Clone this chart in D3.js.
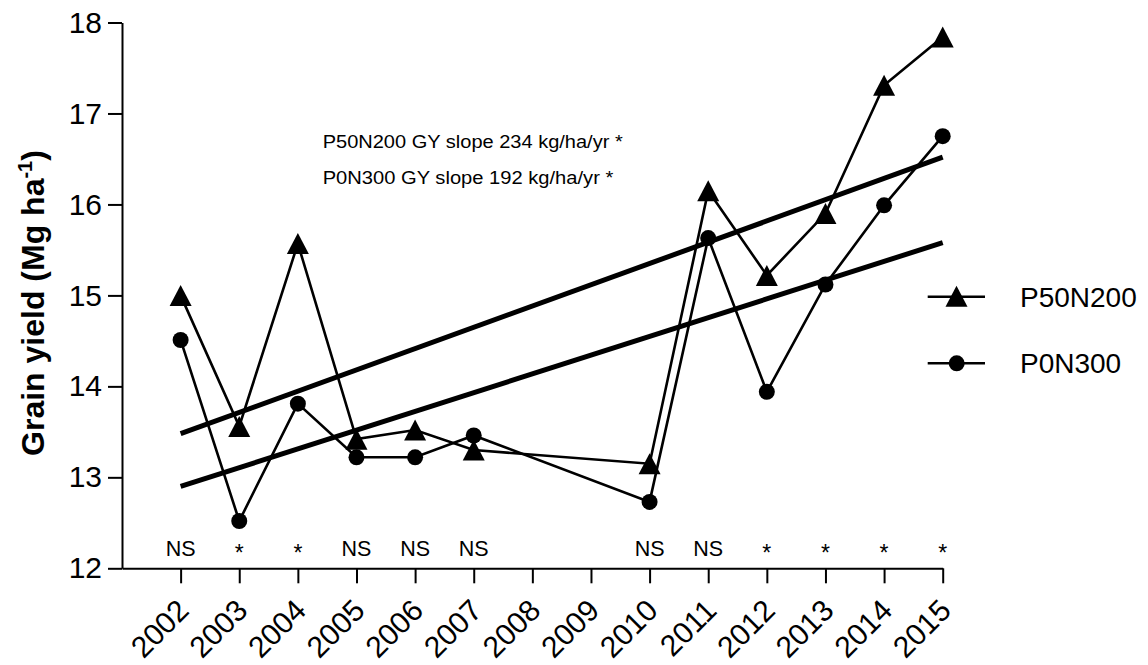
<!DOCTYPE html>
<html>
<head>
<meta charset="utf-8">
<script src="https://cdn.jsdelivr.net/npm/d3@7"></script>
<style>
  html, body { margin: 0; padding: 0; background: #fff; }
  svg { display: block; font-family: "Liberation Sans", Arial, sans-serif; }
</style>
</head>
<body>
<svg id="chart" width="1148" height="665"></svg>
<script>
// ---- data ----
const tickYears = [2002, 2003, 2004, 2005, 2006, 2007, 2008, 2009, 2010, 2011, 2012, 2013, 2014, 2015];
const dataYears = [2002, 2003, 2004, 2005, 2006, 2007, 2010, 2011, 2012, 2013, 2014, 2015];
const p50n200 = [15.00, 13.56, 15.57, 13.42, 13.52, 13.30, 13.15, 16.15, 15.22, 15.90, 17.31, 17.84];
const p0n300  = [14.51, 12.52, 13.81, 13.22, 13.22, 13.46, 12.73, 15.63, 13.94, 15.12, 15.99, 16.75];
const sigLabels = ["NS", "*", "*", "NS", "NS", "NS", "NS", "NS", "*", "*", "*", "*"];
const trendYears = [2002, 2015];
const p50Trend = [13.48, 16.52];
const p0Trend = [12.90, 15.58];
const yTicks = [12, 13, 14, 15, 16, 17, 18];
const seriesNames = ["P50N200", "P0N300"];
const annotations = ["P50N200 GY slope 234 kg/ha/yr *", "P0N300 GY slope 192 kg/ha/yr *"];

// ---- layout ----
const svg = d3.select("#chart");
const x = d3.scaleLinear().domain([2001, 2015]).range([122, 942.7]);
const y = d3.scaleLinear().domain([12, 18]).range([568.3, 22.5]);

// axes
const yAxis = d3.axisLeft(y).tickValues(yTicks).tickFormat(d3.format("d"))
  .tickSize(14).tickSizeOuter(0).tickPadding(6);
const gy = svg.append("g").attr("transform", "translate(122,0)").call(yAxis);
gy.selectAll("text").attr("font-size", 30).attr("font-family", "Liberation Sans, Arial, sans-serif").attr("fill", "#000");
gy.selectAll("line,path").attr("stroke", "#000").attr("stroke-width", 2);

const xAxis = d3.axisBottom(x).tickValues(tickYears).tickFormat(d3.format("d")).tickSize(15).tickSizeOuter(0);
const gx = svg.append("g").attr("transform", "translate(0,568.3)").call(xAxis);
gx.selectAll("line,path").attr("stroke", "#000").attr("stroke-width", 2);
gx.selectAll("text")
  .attr("font-size", 30).attr("font-family", "Liberation Sans, Arial, sans-serif").attr("fill", "#000")
  .attr("x", null).attr("y", null).attr("dy", null)
  .attr("text-anchor", "end")
  .attr("transform", "translate(9.5,44) rotate(-45)");

// y-axis title
const title = svg.append("text")
  .attr("transform", "translate(44,303) rotate(-90)")
  .attr("text-anchor", "middle")
  .attr("font-weight", "bold")
  .attr("font-size", 32)
  .attr("fill", "#000");
title.append("tspan").text("Grain yield (Mg ha");
title.append("tspan").attr("font-size", 20).attr("dy", -12).text("-1");
title.append("tspan").attr("dy", 12).text(")");

// trend lines
const trendLine = d3.line().x(d => x(d[0])).y(d => y(d[1]));
[p50Trend, p0Trend].forEach(t => {
  svg.append("path")
    .attr("d", trendLine(trendYears.map((yr, i) => [yr, t[i]])))
    .attr("fill", "none").attr("stroke", "#000").attr("stroke-width", 5);
});

// series lines
const line = d3.line().x(d => x(d[0])).y(d => y(d[1]));
[p50n200, p0n300].forEach(s => {
  svg.append("path")
    .attr("d", line(dataYears.map((yr, i) => [yr, s[i]])))
    .attr("fill", "none").attr("stroke", "#000").attr("stroke-width", 2.6)
    .attr("stroke-linejoin", "miter");
});

// markers
const triPath = "M0,-10.5L11,10.5L-11,10.5Z";
svg.append("g").selectAll("path")
  .data(dataYears.map((yr, i) => [yr, p50n200[i]]))
  .join("path")
  .attr("d", triPath)
  .attr("transform", d => `translate(${x(d[0])},${y(d[1])})`)
  .attr("fill", "#000");
svg.append("g").selectAll("circle")
  .data(dataYears.map((yr, i) => [yr, p0n300[i]]))
  .join("circle")
  .attr("cx", d => x(d[0])).attr("cy", d => y(d[1])).attr("r", 8)
  .attr("fill", "#000");

// significance labels
svg.append("g").selectAll("text")
  .data(dataYears.map((yr, i) => [yr, sigLabels[i]]))
  .join("text")
  .attr("x", d => x(d[0]))
  .attr("y", d => d[1] === "*" ? 561 : 555.5)
  .attr("text-anchor", "middle")
  .attr("font-size", d => d[1] === "*" ? 23 : 21.5)
  .attr("fill", "#000")
  .text(d => d[1]);

// slope annotations
const annLen = [300, 290.6];
const annY = [148.3, 184];
annotations.forEach((t, i) => {
  svg.append("text")
    .attr("x", 322.7).attr("y", annY[i])
    .attr("font-size", 17.5)
    .attr("textLength", annLen[i]).attr("lengthAdjust", "spacingAndGlyphs")
    .attr("fill", "#000")
    .text(t);
});

// legend
const legY = [296.7, 363.3];
seriesNames.forEach((name, i) => {
  const g = svg.append("g").attr("transform", `translate(0,${legY[i]})`);
  g.append("line").attr("x1", 927.7).attr("x2", 985).attr("y1", 0).attr("y2", 0)
    .attr("stroke", "#000").attr("stroke-width", 2.6);
  if (i === 0) {
    g.append("path").attr("d", triPath).attr("transform", "translate(956.5,-0.5)").attr("fill", "#000");
  } else {
    g.append("circle").attr("cx", 956.7).attr("cy", 0).attr("r", 8).attr("fill", "#000");
  }
  g.append("text").attr("x", 1020).attr("y", 10).attr("font-size", 28).attr("fill", "#000").text(name);
});
</script>
</body>
</html>
